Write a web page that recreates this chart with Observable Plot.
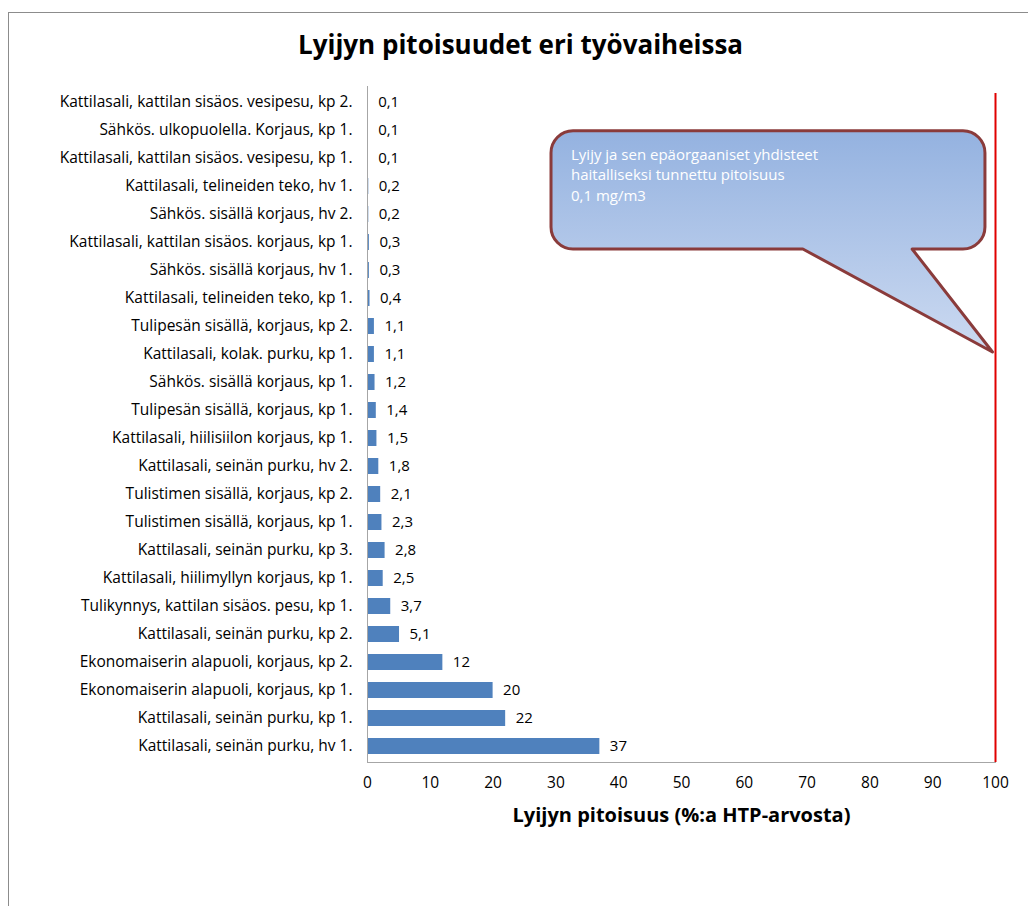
<!DOCTYPE html>
<html><head><meta charset="utf-8">
<script src="https://cdn.jsdelivr.net/npm/d3@7"></script>
<script src="https://cdn.jsdelivr.net/npm/@observablehq/plot@0.6"></script>
<style>
body{margin:0;background:#fff;}
#chart{position:absolute;left:0;top:0;}
#frame{position:absolute;left:8px;top:12px;width:1100px;height:1000px;border:1.5px solid #8c8c8c;pointer-events:none;}
</style></head><body>
<div id="chart"></div><div id="frame"></div>
<script>
const categories = [
  "Kattilasali, kattilan sisäos. vesipesu, kp 2.",
  "Sähkös. ulkopuolella. Korjaus, kp 1.",
  "Kattilasali, kattilan sisäos. vesipesu, kp 1.",
  "Kattilasali, telineiden teko, hv 1.",
  "Sähkös. sisällä korjaus, hv 2.",
  "Kattilasali, kattilan sisäos. korjaus, kp 1.",
  "Sähkös. sisällä korjaus, hv 1.",
  "Kattilasali, telineiden teko, kp 1.",
  "Tulipesän sisällä, korjaus, kp 2.",
  "Kattilasali, kolak. purku, kp 1.",
  "Sähkös. sisällä korjaus, kp 1.",
  "Tulipesän sisällä, korjaus, kp 1.",
  "Kattilasali, hiilisiilon korjaus, kp 1.",
  "Kattilasali, seinän purku, hv 2.",
  "Tulistimen sisällä, korjaus, kp 2.",
  "Tulistimen sisällä, korjaus, kp 1.",
  "Kattilasali, seinän purku, kp 3.",
  "Kattilasali, hiilimyllyn korjaus, kp 1.",
  "Tulikynnys, kattilan sisäos. pesu, kp 1.",
  "Kattilasali, seinän purku, kp 2.",
  "Ekonomaiserin alapuoli, korjaus, kp 2.",
  "Ekonomaiserin alapuoli, korjaus, kp 1.",
  "Kattilasali, seinän purku, kp 1.",
  "Kattilasali, seinän purku, hv 1."
];
const values = [0.1,0.1,0.1,0.2,0.2,0.3,0.3,0.4,1.1,1.1,1.2,1.4,1.5,1.8,2.1,2.3,2.8,2.5,3.7,5.1,12,20,22,37];
const valueLabels = ["0,1","0,1","0,1","0,2","0,2","0,3","0,3","0,4","1,1","1,1","1,2","1,4","1,5","1,8","2,1","2,3","2,8","2,5","3,7","5,1","12","20","22","37"];
const xTicks = [0,10,20,30,40,50,60,70,80,90,100];
const limitValue = [100];
const titleText = "Lyijyn pitoisuudet eri työvaiheissa";
const xLabelText = "Lyijyn pitoisuus (%:a HTP-arvosta)";
const calloutLines = ["Lyijy ja sen epäorgaaniset yhdisteet","haitalliseksi tunnettu pitoisuus","0,1 mg/m3"];

const FONT = "'Open Sans', Lato, sans-serif";
const PAD = 0.43;
const data = categories.map((c,i)=>({category:c, value:values[i], label:valueLabels[i]}));

// callout bubble drawn through the plot's scales
const callout = (index, scales, vals, dims, context) => {
  const x = scales.x, y = scales.y;
  const step = y(categories[1]) - y(categories[0]);
  const c0 = y(categories[0]) + step*(1-PAD)/2;
  const cy = r => c0 + r*step;
  const L = x(29.3), R = x(98.4), T = cy(1.03), B = cy(5.25);
  const tL = x(69.4), tR = x(86.8), tipX = x(99.6), tipY = cy(8.93);
  const r = 22;
  const g = d3.create("svg:g");
  const defs = g.append("defs");
  const grad = defs.append("linearGradient").attr("id","bubbleGrad").attr("x1",0).attr("y1",0).attr("x2",0).attr("y2",1);
  grad.append("stop").attr("offset","0%").attr("stop-color","#94b2e0");
  grad.append("stop").attr("offset","100%").attr("stop-color","#ccdaf1");
  const p = `M${L+r},${T}H${R-r}A${r},${r} 0 0 1 ${R},${T+r}V${B-r}A${r},${r} 0 0 1 ${R-r},${B}H${tR}L${tipX},${tipY}L${tL},${B}H${L+r}A${r},${r} 0 0 1 ${L},${B-r}V${T+r}A${r},${r} 0 0 1 ${L+r},${T}Z`;
  g.append("path").attr("d",p).attr("fill","url(#bubbleGrad)").attr("stroke","#8a3b3b").attr("stroke-width",3).attr("stroke-linejoin","round");
  g.append("g").attr("font-family",FONT).attr("font-size",15).attr("fill","#fff").attr("text-anchor","start")
    .selectAll("text").data(calloutLines).join("text")
    .attr("x", L+20).attr("y",(d,i)=> T + 29 + i*20.5).text(d=>d);
  return g.node();
};

const chart = Plot.plot({
  width: 1028, height: 906,
  marginLeft: 367, marginRight: 33, marginTop: 86, marginBottom: 144,
  style: {fontFamily: FONT, fontSize: "14px", color: "#000", background: "transparent", overflow: "visible"},
  x: {domain: [0,100], label: null},
  y: {domain: categories, paddingInner: PAD, paddingOuter: PAD/2, label: null},
  marks: [
    Plot.axisY({tickSize: 0, tickPadding: 15, fontSize: 15.5, label: null}),
    Plot.axisX({ticks: xTicks, tickSize: 0, tickPadding: 14, fontSize: 15.5, label: null, tickFormat: d => String(d)}),
    Plot.barX(data, {x: "value", y: "category", fill: "#4f81bd"}),
    Plot.ruleX([0], {stroke: "#a6a6a6", strokeWidth: 1}),
    Plot.frame({anchor: "bottom", stroke: "#a6a6a6"}),
    Plot.text(data, {x: "value", y: "category", text: "label", textAnchor: "start", dx: 10, fontSize: 15}),
    Plot.ruleX(limitValue, {stroke: "#e00000", strokeWidth: 2, insetTop: 7}),
    callout,
    Plot.text([titleText], {frameAnchor: "top", dx: -161, dy: -41, fontSize: 26, fontWeight: "bold", lineAnchor: "middle"}),
    Plot.text([xLabelText], {frameAnchor: "bottom", dy: 53, fontSize: 20, fontWeight: "bold", lineAnchor: "middle"})
  ]
});
document.getElementById("chart").appendChild(chart);
</script>
</body></html>
